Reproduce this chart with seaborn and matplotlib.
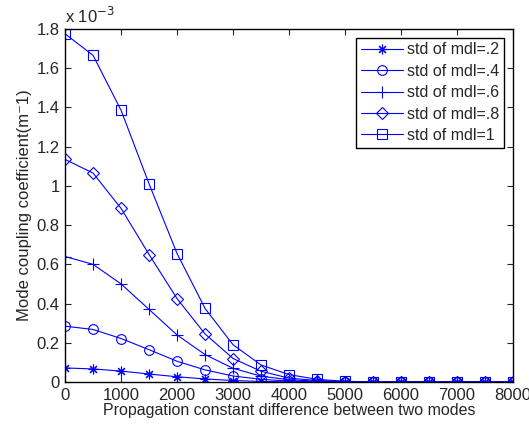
import numpy as np
import pandas as pd
import matplotlib
matplotlib.use("Agg")
import matplotlib.pyplot as plt
import seaborn as sns

x_vals = [0, 500, 1000, 1500, 2000, 2500, 3000, 3500, 4000, 4500, 5000, 5500, 6000, 6500, 7000, 7500, 8000]
mdl_02 = [0.072, 0.067, 0.056, 0.041, 0.027, 0.016, 0.008, 0.003, 0.001, 0.0, 0, 0, 0, 0, 0, 0, 0]
mdl_04 = [0.285, 0.268, 0.222, 0.165, 0.106, 0.062, 0.031, 0.014, 0.005, 0.002, 0, 0, 0, 0, 0, 0, 0]
mdl_06 = [0.640, 0.600, 0.500, 0.370, 0.240, 0.140, 0.070, 0.030, 0.012, 0.004, 0.001, 0, 0, 0, 0, 0, 0]
mdl_08 = [1.135, 1.065, 0.885, 0.650, 0.425, 0.245, 0.120, 0.055, 0.020, 0.008, 0.002, 0, 0, 0, 0, 0, 0]
mdl_10 = [1.775, 1.665, 1.385, 1.010, 0.655, 0.375, 0.190, 0.087, 0.038, 0.014, 0.004, 0.001, 0, 0, 0, 0, 0]
labels = ["std of mdl=.2", "std of mdl=.4", "std of mdl=.6", "std of mdl=.8", "std of mdl=1"]
series = [mdl_02, mdl_04, mdl_06, mdl_08, mdl_10]
markers = [(8, 2, 0), "o", "+", "D", "s"]
msizes = [7, 7, 9, 6, 7]

sns.set_style("ticks")
plt.rcParams["font.family"] = ["Liberation Sans", "DejaVu Sans"]

fig = plt.figure(figsize=(5.29, 4.25), dpi=100)
ax = fig.add_axes([0.123, 0.101, 0.847, 0.831])

for lab, ys, mk, ms in zip(labels, series, markers, msizes):
    df = pd.DataFrame({"x": x_vals, "y": ys})
    sns.lineplot(data=df, x="x", y="y", ax=ax, color="blue", marker=mk,
                 markersize=ms, markerfacecolor="none", markeredgecolor="blue",
                 markeredgewidth=0.8, linewidth=0.8, label=lab)

ax.set_xlim(0, 8000)
ax.set_ylim(0, 1.8)
ax.set_xticks(np.arange(0, 8001, 1000))
ax.set_yticks(np.arange(0, 1.81, 0.2))
ax.set_yticklabels(["0", "0.2", "0.4", "0.6", "0.8", "1", "1.2", "1.4", "1.6", "1.8"])
ax.tick_params(direction="in", top=True, right=True, labelsize=12, length=4, width=0.8, pad=4)
for s in ax.spines.values():
    s.set_linewidth(1.0)
    s.set_color("black")
ax.set_xlabel("Propagation constant difference between two modes", fontsize=11.5, labelpad=0)
ax.set_ylabel("Mode coupling coefficient(m\u207b1)", fontsize=12, labelpad=3)
ax.text(0.0, 1.008, "x 10$^{-3}$", transform=ax.transAxes, fontsize=12, ha="left", va="bottom")

leg = ax.legend(loc="upper right", fontsize=11.5, frameon=True, fancybox=False,
                edgecolor="black", framealpha=1, borderpad=0.3, labelspacing=0.4,
                handlelength=2.6, handletextpad=0.3, borderaxespad=0.55)
leg.get_frame().set_linewidth(1.0)

fig.savefig("out.png", dpi=100)
